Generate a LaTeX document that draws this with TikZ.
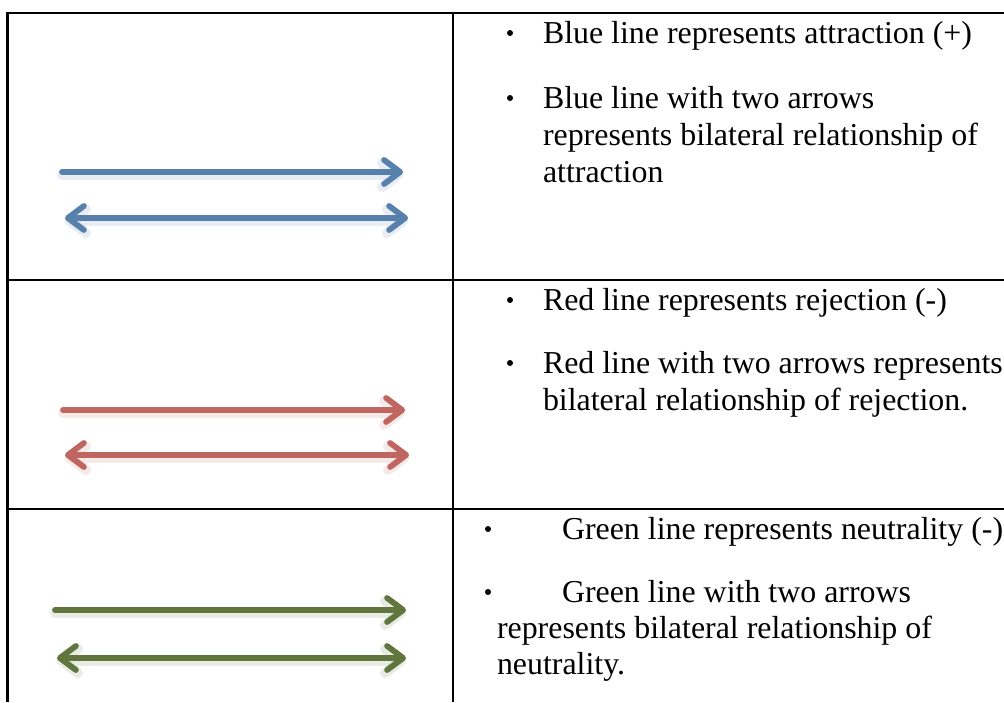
\documentclass[tikz,border=0pt]{standalone}
\usepackage{fontspec}
\setmainfont{Liberation Serif}
\usetikzlibrary{arrows.meta}

\definecolor{attrblue}{RGB}{88,128,172}
\definecolor{rejred}{RGB}{192,102,96}
\definecolor{neutgreen}{RGB}{96,118,60}

\tikzset{
  rule/.style={line width=2.6pt, draw=black, line join=miter},
  txt/.style={anchor=base west, inner sep=0pt, outer sep=0pt,
              font=\fontsize{31.9pt}{37pt}\selectfont},
  dotmark/.style={circle, fill=black, inner sep=0pt, minimum size=6pt},
  barb/.tip={Straight Barb[length=16pt, width=24pt, round]},
  oneway/.style={line width=5.8pt, draw=#1, line cap=round, -barb},
  twoway/.style={line width=5.8pt, draw=#1, line cap=round, barb-barb},
  glow/.style={line width=10pt, draw=#1!30, opacity=0.45, line cap=round,
               transform canvas={yshift=-3pt}},
}

\begin{document}
\begin{tikzpicture}[x=1pt, y=-1pt]
  \useasboundingbox (0,0) rectangle (1004,702);
  \fill[white] (0,0) rectangle (1004,702);

  % table grid (open on the right and at the bottom)
  \coordinate (tl) at (7.5,13);
  \coordinate (tr) at (1004,13);
  \coordinate (bl) at (7.5,702);
  \coordinate (mt) at (453,13);
  \coordinate (mb) at (453,702);
  \coordinate (s1l) at (7.5,280);
  \coordinate (s1r) at (1004,280);
  \coordinate (s2l) at (7.5,509);
  \coordinate (s2r) at (1004,509);
  \draw[rule] (tr) -- (tl) -- (bl);
  \draw[rule] (mt) -- (mb);
  \draw[rule] (s1l) -- (s1r);
  \draw[rule] (s2l) -- (s2r);

  % legend arrows
  \coordinate (b1s) at (62,172);  \coordinate (b1e) at (403,172);
  \coordinate (b2s) at (65,218);  \coordinate (b2e) at (408,218);
  \coordinate (r1s) at (63,410);  \coordinate (r1e) at (405,410);
  \coordinate (r2s) at (65,455);  \coordinate (r2e) at (409,455);
  \coordinate (g1s) at (55,610);  \coordinate (g1e) at (406,610);
  \coordinate (g2s) at (57,658);  \coordinate (g2e) at (406,658);

  \foreach \s/\e/\c in {b1s/b1e/attrblue, r1s/r1e/rejred, g1s/g1e/neutgreen}{
    \draw[glow=\c, -barb] (\s) -- (\e);
    \draw[oneway=\c] (\s) -- (\e);
  }
  \foreach \s/\e/\c in {b2s/b2e/attrblue, r2s/r2e/rejred, g2s/g2e/neutgreen}{
    \draw[glow=\c, barb-barb] (\s) -- (\e);
    \draw[twoway=\c] (\s) -- (\e);
  }

  % row 1: attraction
  \node[dotmark] (a1dot) at (510,33) {};
  \node[txt] (a1) at (543,43) {Blue line represents attraction (+)};
  \node[dotmark] (a2dot) at (510,98) {};
  \node[txt] (a2) at (543,108) {Blue line with two arrows};
  \node[txt] (a3) at (543,145) {represents bilateral relationship of};
  \node[txt] (a4) at (543,182) {attraction};

  % row 2: rejection
  \node[dotmark] (r1dot) at (510,300) {};
  \node[txt] (rt1) at (543,310) {Red line represents rejection (-)};
  \node[dotmark] (r2dot) at (510,363) {};
  \node[txt] (rt2) at (543,373) {Red line with two arrows represents};
  \node[txt] (rt3) at (543,410) {bilateral relationship of rejection.};

  % row 3: neutrality
  \node[dotmark] (n1dot) at (488,529) {};
  \node[txt] (n1) at (562,539) {Green line represents neutrality (-)};
  \node[dotmark] (n2dot) at (488,592) {};
  \node[txt] (n2) at (562,602) {Green line with two arrows};
  \node[txt] (n3) at (497,638) {represents bilateral relationship of};
  \node[txt] (n4) at (497,674) {neutrality.};
\end{tikzpicture}
\end{document}
